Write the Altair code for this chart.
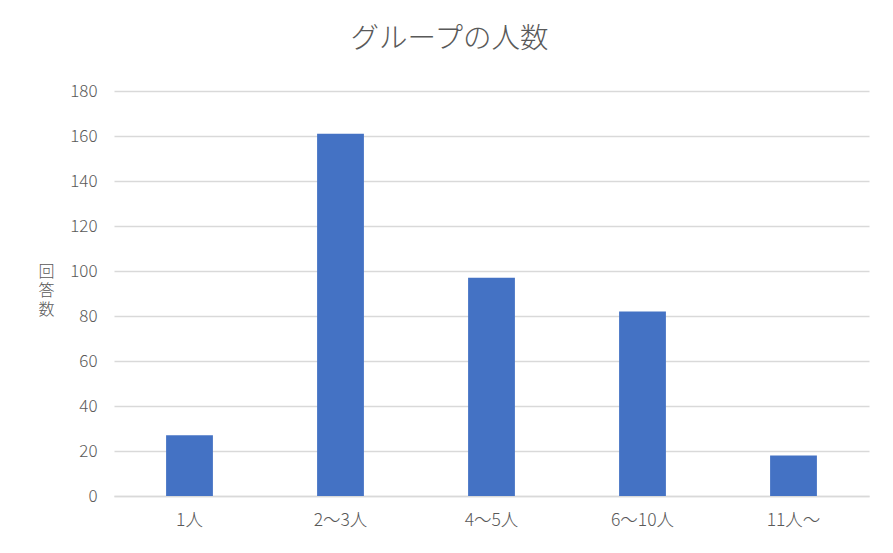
import altair as alt
import pandas as pd

categories = ["1人", "2〜3人", "4〜5人", "6〜10人", "11人〜"]
counts = [27, 161, 97, 82, 18]
y_ticks = [0, 20, 40, 60, 80, 100, 120, 140, 160, 180]

df = pd.DataFrame({"group": categories, "count": counts})

FONT = "Noto Sans CJK JP"
GRAY = "#595959"

bars = alt.Chart(df).mark_bar(color="#4472C4").encode(
    x=alt.X(
        "group:N",
        sort=categories,
        scale=alt.Scale(paddingInner=0.69, paddingOuter=0.345),
        axis=alt.Axis(
            title=None,
            labelAngle=0,
            labelFont=FONT,
            labelFontSize=17.5,
            labelFontWeight=300,
            labelColor=GRAY,
            labelPadding=15,
            ticks=False,
            domainColor="#d9d9d9",
            domainWidth=1.5,
            grid=False,
        ),
    ),
    y=alt.Y(
        "count:Q",
        scale=alt.Scale(domain=[0, 180], nice=False),
        axis=alt.Axis(
            values=y_ticks,
            title=["回", "答", "数"],
            titleAngle=0,
            titleFont=FONT,
            titleFontSize=16,
            titleFontWeight=300,
            titleColor=GRAY,
            titleAlign="center",
            titleBaseline="middle",
            titleX=-68,
            titleY=180,
            titleLineHeight=19,
            labelFont=FONT,
            labelFontSize=17,
            labelFontWeight=300,
            labelColor=GRAY,
            labelPadding=17,
            ticks=False,
            domain=False,
            gridColor="#d9d9d9",
            gridWidth=1.5,
        ),
    ),
)

chart = bars.properties(
    width=755,
    height=405,
    padding={"left": 106, "top": 83, "right": 16, "bottom": 49},
    autosize=alt.AutoSizeParams(type="none"),
    title=alt.TitleParams(
        text="グループの人数",
        font=FONT,
        fontSize=28.5,
        fontWeight=300,
        color=GRAY,
        anchor="middle",
        dx=-42,
        offset=29,
    ),
).configure_view(stroke=None)

chart.save("out.html", embed_options={"renderer": "svg", "actions": False})
